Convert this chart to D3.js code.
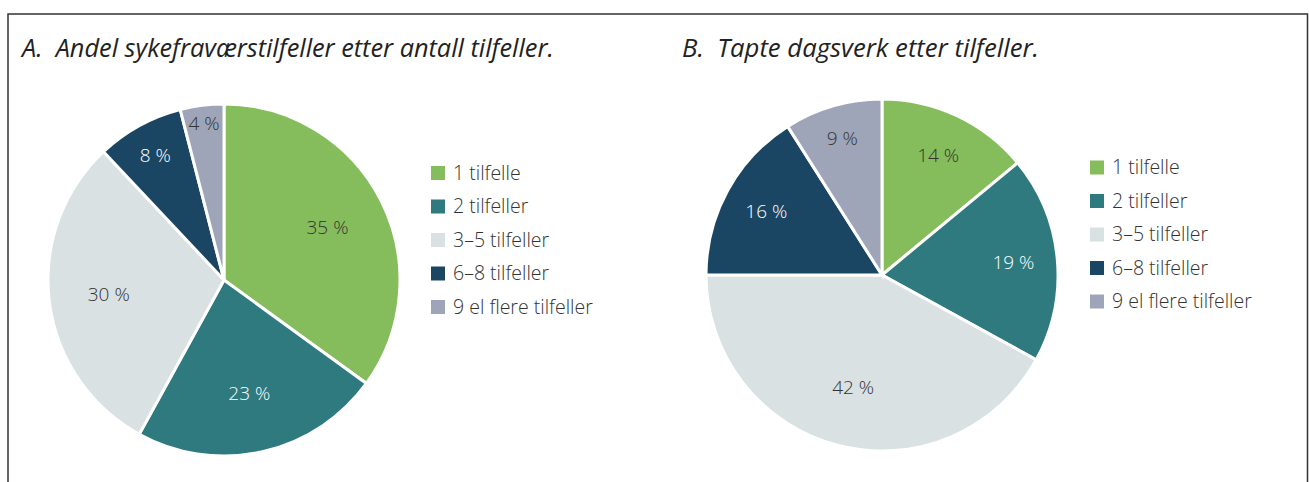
<!DOCTYPE html>
<html>
<head>
<meta charset="utf-8">
<script src="https://cdn.jsdelivr.net/npm/d3@7"></script>
<style>
  body { margin: 0; background: #fff; }
  svg { display: block; font-family: "Open Sans", sans-serif; }
</style>
</head>
<body>
<svg width="1309" height="482"></svg>
<script>
// categories and values
const categories = ["1 tilfelle", "2 tilfeller", "3\u20135 tilfeller", "6\u20138 tilfeller", "9 el flere tilfeller"];
const valuesA = [35, 23, 30, 8, 4];
const valuesB = [14, 19, 42, 16, 9];
const titleA = "A.\u00a0 Andel sykefraværstilfeller etter antall tilfeller.";
const titleB = "B.\u00a0 Tapte dagsverk etter tilfeller.";
const colors = ["#86bd5c", "#2e7a7f", "#d9e1e3", "#1a4663", "#9fa5b8"];
const labelColors = ["#333", "#fff", "#333", "#fff", "#333"];

let svg = d3.select("svg");

// frame
svg.append("path")
  .attr("d", "M8,500 V14 H1307.5 V500")
  .attr("fill", "none")
  .attr("stroke", "#333")
  .attr("stroke-width", 1.5);

let pie = d3.pie().sort(null).value(d => d);
let radius = 176;
let arc = d3.arc().innerRadius(0).outerRadius(radius);

function drawPanel(opts) {
  let g = svg.append("g");

  g.append("text")
    .attr("x", opts.titleX)
    .attr("y", 57)
    .attr("font-size", opts.titleSize)
    .attr("font-style", "italic")
    .attr("fill", "#222")
    .text(opts.title);

  let pg = g.append("g")
    .attr("transform", "translate(" + opts.cx + "," + opts.cy + ")");

  let arcs = pie(opts.values);

  pg.selectAll("path")
    .data(arcs)
    .enter()
    .append("path")
    .attr("d", arc)
    .attr("fill", (d, i) => colors[i])
    .attr("stroke", "#fff")
    .attr("stroke-width", 3)
    .attr("stroke-linejoin", "miter");

  // labels: small slices pushed toward the rim
  pg.selectAll("text")
    .data(arcs)
    .enter()
    .append("text")
    .attr("transform", function(d) {
      let frac = (d.endAngle - d.startAngle) / (2 * Math.PI);
      let k = frac < 0.05 ? 0.9 : frac < 0.1 ? 0.81 : frac < 0.2 ? 0.75 : 0.66;
      let a = (d.startAngle + d.endAngle) / 2;
      return "translate(" + (Math.sin(a) * radius * k) + "," + (-Math.cos(a) * radius * k) + ")";
    })
    .attr("text-anchor", "middle")
    .attr("dy", "0.35em")
    .attr("font-size", "19px")
    .attr("font-weight", 300)
    .attr("fill", (d, i) => labelColors[i])
    .text(d => d.data + " %");

  // legend
  let y = d3.scalePoint()
    .domain(categories)
    .range([opts.legendY, opts.legendY + 4 * 33.5]);

  let lg = g.append("g");
  let rows = lg.selectAll("g")
    .data(categories)
    .enter()
    .append("g")
    .attr("transform", d => "translate(" + opts.legendX + "," + y(d) + ")");

  rows.append("rect")
    .attr("x", 0)
    .attr("y", -7)
    .attr("width", 14)
    .attr("height", 14)
    .attr("fill", (d, i) => colors[i]);

  rows.append("text")
    .attr("x", 22)
    .attr("dy", "0.35em")
    .attr("font-size", "19.5px")
    .attr("font-weight", 300)
    .attr("fill", "#333")
    .text(d => d);
}

drawPanel({ title: titleA, titleX: 22, titleSize: "25.3px", values: valuesA, cx: 224, cy: 280, legendX: 431, legendY: 173 });
drawPanel({ title: titleB, titleX: 682, titleSize: "25.7px", values: valuesB, cx: 882, cy: 275, legendX: 1090, legendY: 167.5 });
</script>
</body>
</html>
